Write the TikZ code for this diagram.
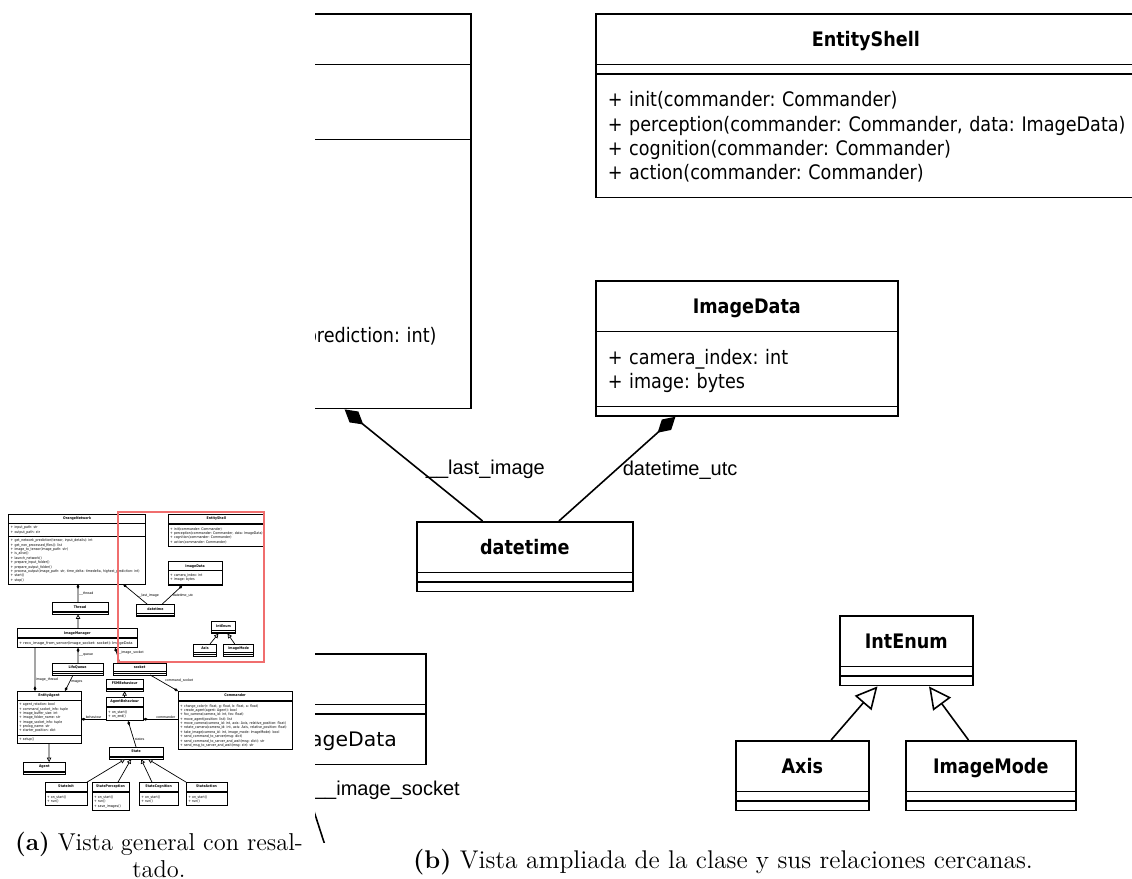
\documentclass[tikz,border=0pt]{standalone}
\usepackage{fontspec}
\usetikzlibrary{shapes.multipart,arrows.meta,calc}

\newfontfamily\umlfont[FakeStretch=0.88]{DejaVu Sans}
\newfontfamily\lblfont{Liberation Sans}
\definecolor{hilite}{RGB}{240,110,110}

\newcommand\umltitle[1]{\makebox[\linewidth]{\rule[-7.6pt]{0pt}{22.5pt}\textbf{#1}}}
\newcommand\umlmem[1]{\begin{tabular}[t]{@{}l@{}}\rule{0pt}{15pt}#1\rule[-7.5pt]{0pt}{7.5pt}\end{tabular}}
\newcommand\umlempty{\rule{0pt}{2pt}}

% the whole class diagram, #1 = prefix of the node names
\newcommand\umldiagram[1]{%
\node[umlclass, text width=372pt] (#1OrangeNetwork) at (-298,13) {\umltitle{OrangeNetwork}
  \nodepart{second}\umlmem{+ input\_path: str\\+ output\_path: str}
  \nodepart{third}\umlmem{+ get\_network\_prediction(tensor, input\_details): int\\
    + get\_non\_processed\_files(): list\\
    + image\_to\_tensor(image\_path: str)\\
    + is\_alive()\\
    + launch\_network()\\
    + prepare\_input\_folder()\\
    + prepare\_output\_folder()\\
    + process\_output(image\_path: str, time\_delta: timedelta, highest\_prediction: int)\\
    + start()\\
    + stop()}};
\node[umlclass, text width=145pt] (#1Thread) at (-55,507) {\umltitle{Thread}
  \nodepart{second}\umlempty\nodepart{third}\umlempty};
\node[umlclass, text width=326pt] (#1ImageManager) at (-251,653) {\umltitle{ImageManager}
  \nodepart{second}\umlempty
  \nodepart{third}\umlmem{\addfontfeatures{FakeStretch=1.02}+ recv\_image\_from\_server(image\_socket: socket): ImageData}};
\node[umlclass, text width=131pt] (#1LifoQueue) at (-55,846) {\umltitle{LifoQueue}
  \nodepart{second}\umlempty\nodepart{third}\umlempty};
\node[umlclass, text width=136.5pt] (#1socket) at (287,846) {\umltitle{socket}
  \nodepart{second}\umlempty\nodepart{third}\umlempty};
\node[umlclass, text width=167.5pt] (#1EntityAgent) at (-251,1004) {\umltitle{EntityAgent}
  \nodepart{second}\umlmem{+ agent\_rotation: bool\\
    + command\_socket\_info: tuple\\
    + image\_buffer\_size: int\\
    + image\_folder\_name: str\\
    + image\_socket\_info: tuple\\
    + prolog\_name: str\\
    + starter\_position: dict}
  \nodepart{third}\umlmem{+ setup()}};
\node[umlclass, text width=107pt] (#1Agent) at (-217,1402) {\umltitle{Agent}
  \nodepart{second}\umlempty\nodepart{third}\umlempty};
\node[umlclass, text width=91.5pt] (#1FSMBehaviour) at (248,937) {\umltitle{FSMBehaviour}
  \nodepart{second}\umlempty\nodepart{third}\umlempty};
\node[umlclass, text width=91.5pt] (#1AgentBehaviour) at (248,1038) {\umltitle{AgentBehaviour}
  \nodepart{second}\umlempty
  \nodepart{third}\umlmem{+ on\_start()\\+ on\_end()}};
\node[umlclass, text width=307pt] (#1Commander) at (651,1004) {\umltitle{Commander}
  \nodepart{second}\umlempty
  \nodepart{third}\umlmem{+ change\_color(r: float, g: float, b: float, a: float)\\
    + create\_agent(agent: Agent): bool\\
    + fov\_camera(camera\_id: int, fov: float)\\
    + move\_agent(position: list): list\\
    + move\_camera(camera\_id: int, axis: Axis, relative\_position: float)\\
    + rotate\_camera(camera\_id: int, axis: Axis, relative\_position: float)\\
    + take\_image(camera\_id: int, image\_mode: ImageMode): bool\\
    + send\_command\_to\_server(msg: dict)\\
    + send\_command\_to\_server\_and\_wait(msg: dict): str\\
    + send\_msg\_to\_server\_and\_wait(msg: str): str}};
\node[umlclass, text width=139pt] (#1State) at (265,1318) {\umltitle{State}
  \nodepart{second}\umlempty\nodepart{third}\umlempty};
\node[umlclass, text width=105.5pt] (#1StateInit) at (-94,1514) {\umltitle{StateInit}
  \nodepart{second}\umlempty
  \nodepart{third}\umlmem{+ on\_start()\\+ run()}};
\node[umlclass, text width=92pt] (#1StatePerception) at (169,1514) {\umltitle{StatePerception}
  \nodepart{second}\umlempty
  \nodepart{third}\umlmem{+ on\_start()\\+ run()\\+ save\_images()}};
\node[umlclass, text width=97pt] (#1StateCognition) at (433,1514) {\umltitle{StateCognition}
  \nodepart{second}\umlempty
  \nodepart{third}\umlmem{+ on\_start()\\+ run()}};
\node[umlclass, text width=102.5pt] (#1StateAction) at (696,1514) {\umltitle{StateAction}
  \nodepart{second}\umlempty
  \nodepart{third}\umlmem{+ on\_start()\\+ run()}};
\node[umlclass, text width=258pt] (#1EntityShell) at (595,13) {\umltitle{EntityShell}
  \nodepart{second}\umlempty
  \nodepart{third}\umlmem{+ init(commander: Commander)\\
    + perception(commander: Commander, data: ImageData)\\
    + cognition(commander: Commander)\\
    + action(commander: Commander)}};
\node[umlclass, text width=139pt] (#1ImageData) at (595,280) {\umltitle{ImageData}
  \nodepart{second}\umlmem{+ camera\_index: int\\+ image: bytes}
  \nodepart{third}\umlempty};
\node[umlclass, text width=96pt] (#1datetime) at (416,521) {\umltitle{datetime}
  \nodepart{second}\umlempty\nodepart{third}\umlempty};
\node[umlclass, text width=54.5pt] (#1IntEnum) at (839,615) {\umltitle{IntEnum}
  \nodepart{second}\umlempty\nodepart{third}\umlempty};
\node[umlclass, text width=54.5pt] (#1Axis) at (735,740) {\umltitle{Axis}
  \nodepart{second}\umlempty\nodepart{third}\umlempty};
\node[umlclass, text width=73pt] (#1ImageMode) at (905,740) {\umltitle{ImageMode}
  \nodepart{second}\umlempty\nodepart{third}\umlempty};
\draw[compose] ($(#1Thread.north west)!.465!(#1Thread.north east)$) -- node[lbl, anchor=west]{\_\_thread} ($(#1OrangeNetwork.south west)!.506!(#1OrangeNetwork.south east)$);
\draw[inherit] ($(#1ImageManager.north west)!.506!(#1ImageManager.north east)$) -- ($(#1Thread.south west)!.465!(#1Thread.south east)$);
\draw[compose] ($(#1LifoQueue.north west)!.51!(#1LifoQueue.north east)$) -- node[lbl, anchor=west]{\_\_queue} ($(#1ImageManager.south west)!.506!(#1ImageManager.south east)$);
\draw[compose] ($(#1socket.north west)!.128!(#1socket.north east)$) -- node[lbl, pos=.69, anchor=west]{\_\_image\_socket} ($(#1ImageManager.south west)!.812!(#1ImageManager.south east)$);
\draw[compose] ($(#1ImageManager.south west)!.149!(#1ImageManager.south east)$) -- node[lbl, pos=.73, anchor=west]{image\_thread} ($(#1EntityAgent.north west)!.281!(#1EntityAgent.north east)$);
\draw[compose] ($(#1LifoQueue.south west)!.413!(#1LifoQueue.south east)$) -- node[lbl, pos=.4, anchor=west]{images} ($(#1EntityAgent.north west)!.749!(#1EntityAgent.north east)$);
\draw[inherit] (#1EntityAgent.south) -- ($(#1Agent.north west)!.613!(#1Agent.north east)$);
\draw[inherit] (#1AgentBehaviour.north) -- (#1FSMBehaviour.south);
\coordinate (#1bhv) at ($(#1AgentBehaviour.north east)!.93!(#1AgentBehaviour.south east)$);
\draw[compose] (#1bhv -| #1AgentBehaviour.west) -- node[lbl, anchor=south]{behaviour} (#1bhv -| #1EntityAgent.east);
\draw[compose] (#1bhv -| #1Commander.west) -- node[lbl, pos=.35, anchor=south]{commander} (#1bhv);
\draw[compose] ($(#1socket.south west)!.697!(#1socket.south east)$) -- node[lbl, anchor=south west]{command\_socket} (#1Commander.north west);
\draw[compose] (#1State.north) -- node[lbl, pos=.3, anchor=west]{states} ($(#1AgentBehaviour.south west)!.594!(#1AgentBehaviour.south east)$);
\draw[inherit] (#1StateInit.north east) -- ($(#1State.south west)!.295!(#1State.south east)$);
\draw[inherit] ($(#1StatePerception.north west)!.7!(#1StatePerception.north east)$) -- ($(#1State.south west)!.407!(#1State.south east)$);
\draw[inherit] ($(#1StateCognition.north west)!.33!(#1StateCognition.north east)$) -- ($(#1State.south west)!.593!(#1State.south east)$);
\draw[inherit] (#1StateAction.north west) -- ($(#1State.south west)!.722!(#1State.south east)$);
\draw[compose] ($(#1datetime.north west)!.306!(#1datetime.north east)$) -- node[lbl, pos=.46, anchor=west]{\_\_last\_image} ($(#1OrangeNetwork.south west)!.835!(#1OrangeNetwork.south east)$);
\draw[compose] ($(#1datetime.north west)!.657!(#1datetime.north east)$) -- node[lbl, pos=.49, anchor=west]{datetime\_utc} ($(#1ImageData.south west)!.265!(#1ImageData.south east)$);
\draw[inherit] ($(#1Axis.north west)!.714!(#1Axis.north east)$) -- ($(#1IntEnum.south west)!.286!(#1IntEnum.south east)$);
\draw[inherit] ($(#1ImageMode.north west)!.37!(#1ImageMode.north east)$) -- ($(#1IntEnum.south west)!.669!(#1IntEnum.south east)$);
}

\begin{document}
\begin{tikzpicture}[x=0.5pt, y=-0.5pt]
\tikzstyle{umlclass}=[draw, fill=white, anchor=north west, rectangle split, rectangle split parts=3, inner xsep=6pt, inner ysep=1pt, font=\umlfont\fontsize{10}{12.15}\selectfont\frenchspacing]
\tikzstyle{compose}=[-{Diamond[length=12pt, width=7pt, scale=\umltip]}]
\tikzstyle{inherit}=[-{Triangle[fill=white, length=11pt, width=11pt, scale=\umltip]}]
\tikzstyle{lbl}=[font=\lblfont\fontsize{10}{12}\selectfont, inner sep=3pt]
\tikzstyle{captext}=[inner sep=0pt, align=center]
\useasboundingbox (0,0) rectangle (1132,879);

\begin{scope}[shift={(118,511.7)}, scale=0.1786, shift={(-315,0)}, transform shape, line width=0.35pt]
\def\umltip{0.2}
\umldiagram{a}
\draw[hilite, line width=1pt] (315,0) rectangle (1132,842);
\end{scope}

\begin{scope}[line width=0.8pt]
\def\umltip{1}
\clip (315,0) rectangle (1132,842);
\umldiagram{b}
\end{scope}

\node[captext, font=\fontsize{12.2}{13.5}\selectfont] (capa) at (159,855) {\textbf{(a)} Vista general con resal-\\tado.};
\node[captext, font=\fontsize{12.8}{14}\selectfont] (capb) at (723,862) {\textbf{(b)} Vista ampliada de la clase y sus relaciones cercanas.};
\end{tikzpicture}
\end{document}
